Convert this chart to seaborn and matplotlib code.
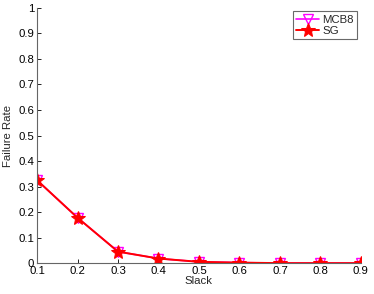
import matplotlib
matplotlib.use("Agg")
import matplotlib.pyplot as plt
import seaborn as sns
import pandas as pd

slack = [0.1, 0.2, 0.3, 0.4, 0.5, 0.6, 0.7, 0.8, 0.9]
mcb8 = [0.325, 0.178, 0.045, 0.018, 0.005, 0.002, 0.0, 0.0, 0.0]
sg = [0.325, 0.178, 0.045, 0.018, 0.005, 0.002, 0.0, 0.0, 0.0]
yticks = [0, 0.1, 0.2, 0.3, 0.4, 0.5, 0.6, 0.7, 0.8, 0.9, 1]

sns.set_style("white")
plt.rcParams['font.family'] = ['Liberation Sans', 'DejaVu Sans']

df = pd.DataFrame({"Slack": slack * 2,
                   "Failure Rate": mcb8 + sg,
                   "Method": ["MCB8"] * len(slack) + ["SG"] * len(slack)})

fig = plt.figure(figsize=(3.74, 2.94), dpi=100)
ax = fig.add_axes([0.099, 0.105, 0.866, 0.868])

fs = 8.2
sns.lineplot(data=df[df.Method == "MCB8"], x="Slack", y="Failure Rate", ax=ax,
             color="#ff00ff", marker="v", markersize=7, markerfacecolor="none",
             markeredgecolor="#ff00ff", markeredgewidth=1.0, linewidth=1.2, label="MCB8")
sns.lineplot(data=df[df.Method == "SG"], x="Slack", y="Failure Rate", ax=ax,
             color="#ff0000", marker="*", markersize=10, markerfacecolor="#ff0000",
             markeredgecolor="#ff0000", linewidth=1.4, label="SG")

ax.set_xlim(0.1, 0.9)
ax.set_ylim(0, 1)
ax.set_xticks(slack)
ax.set_xticklabels([f"{v:g}" for v in slack])
ax.set_yticks(yticks)
ax.set_yticklabels([f"{v:g}" for v in yticks])
ax.tick_params(labelsize=fs, direction="in", length=3, width=0.6, pad=2,
               left=True, bottom=True, colors="black")
ax.tick_params(axis="x", pad=2)
ax.set_xlabel("Slack", fontsize=fs, labelpad=0)
ax.set_ylabel("Failure Rate", fontsize=fs, labelpad=4)
for s in ["top", "right"]:
    ax.spines[s].set_visible(False)
for s in ["left", "bottom"]:
    ax.spines[s].set_color("#666666")
    ax.spines[s].set_linewidth(0.8)

leg = ax.legend(loc="upper right", fontsize=fs, frameon=True, fancybox=False,
                edgecolor="#444444", handlelength=2.0, borderpad=0.3,
                labelspacing=0.1, handletextpad=0.3, borderaxespad=0.3)
leg.get_frame().set_linewidth(0.8)

fig.savefig("out.png", dpi=100)
